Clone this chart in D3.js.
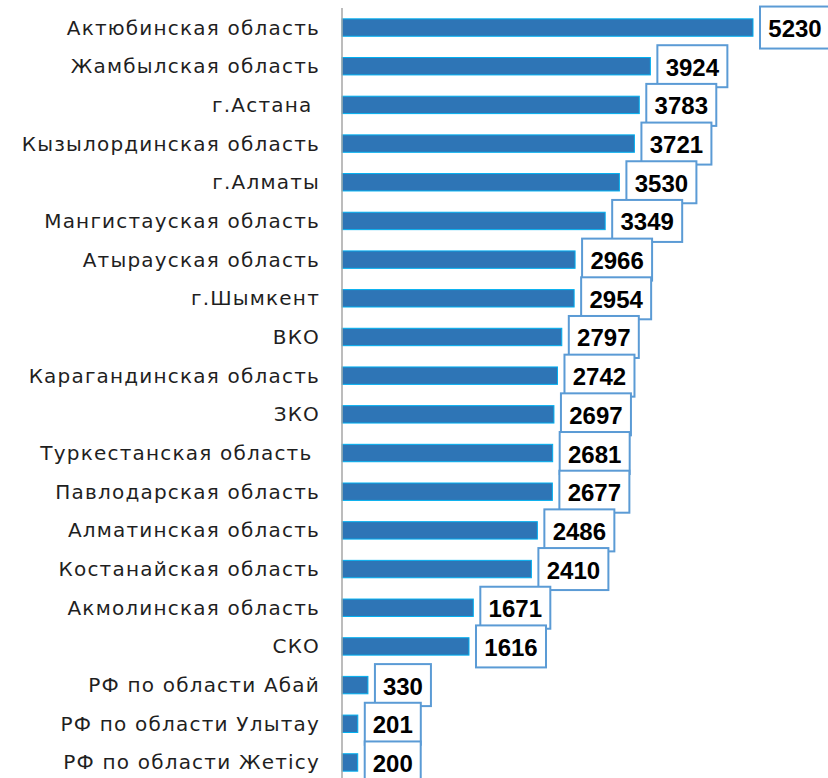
<!DOCTYPE html>
<html><head>
<meta charset="utf-8">
<script src="https://d3js.org/d3.v7.min.js"></script>
<style>
  body { margin: 0; background: #fff; }
  .label { font-family: "DejaVu Sans", sans-serif; font-size: 20px; fill: #1f1f1f; letter-spacing: 1.2px; }
  .val { font-family: "Liberation Sans", Arial, sans-serif; font-size: 24px; font-weight: bold; fill: #000; }
</style>
</head>
<body>
<svg id="chart" width="828" height="778"></svg>
<script>
  // regions and values, top to bottom
  const regions = [
    "Актюбинская область", "Жамбылская область", "г.Астана ", "Кызылординская область",
    "г.Алматы", "Мангистауская область", "Атырауская область", "г.Шымкент", "ВКО",
    "Карагандинская область", "ЗКО", "Туркестанская область ", "Павлодарская область",
    "Алматинская область", "Костанайская область", "Акмолинская область", "СКО",
    "РФ по области Абай", "РФ по области Улытау", "РФ по области Жетісу"
  ];
  const values = [5230, 3924, 3783, 3721, 3530, 3349, 2966, 2954, 2797, 2742,
                  2697, 2681, 2677, 2486, 2410, 1671, 1616, 330, 201, 200];

  const svg = d3.select("svg#chart");
  const axisX = 342;

  const x = d3.scaleLinear().domain([0, 5230]).range([axisX, 753]);
  // bar centres every ~38.7px, first one at ~27.5
  const y = d3.scaleBand().domain(regions).range([8.2, 781.8])
              .paddingInner(0.55).paddingOuter(0.275);

  const data = regions.map((r, i) => ({ name: r, value: values[i] }));

  // bars
  svg.selectAll("rect.bar").data(data).join("rect")
     .attr("class", "bar")
     .attr("x", axisX)
     .attr("y", d => y(d.name))
     .attr("width", d => x(d.value) - axisX)
     .attr("height", y.bandwidth())
     .attr("fill", "#2E75B6")
     .attr("stroke", "#00B0F0")
     .attr("stroke-width", 1);

  // axis line
  svg.append("line")
     .attr("x1", axisX).attr("x2", axisX)
     .attr("y1", 8).attr("y2", 778)
     .attr("stroke", "#A6A6A6").attr("stroke-width", 1.5);

  // category labels
  svg.selectAll("text.label").data(data).join("text")
     .attr("class", "label")
     .attr("x", 320)
     .attr("y", d => y(d.name) + y.bandwidth() / 2)
     .attr("text-anchor", "end")
     .attr("dominant-baseline", "central")
     .style("white-space", "pre")
     .text(d => d.name);

  // value boxes
  const boxes = svg.selectAll("g.valbox").data(data).join("g")
     .attr("class", "valbox")
     .attr("transform", d => "translate(" + (x(d.value) + 7) + "," + (y(d.name) + y.bandwidth() / 2) + ")");

  boxes.append("rect")
     .attr("x", 0)
     .attr("y", -21)
     .attr("width", d => d.value >= 1000 ? 70 : 56)
     .attr("height", 42)
     .attr("fill", "#fff")
     .attr("stroke", "#5B9BD5")
     .attr("stroke-width", 2);

  boxes.append("text")
     .attr("class", "val")
     .attr("x", d => (d.value >= 1000 ? 70 : 56) / 2)
     .attr("y", 1)
     .attr("text-anchor", "middle")
     .attr("dominant-baseline", "central")
     .text(d => d.value);
</script>
</body></html>
